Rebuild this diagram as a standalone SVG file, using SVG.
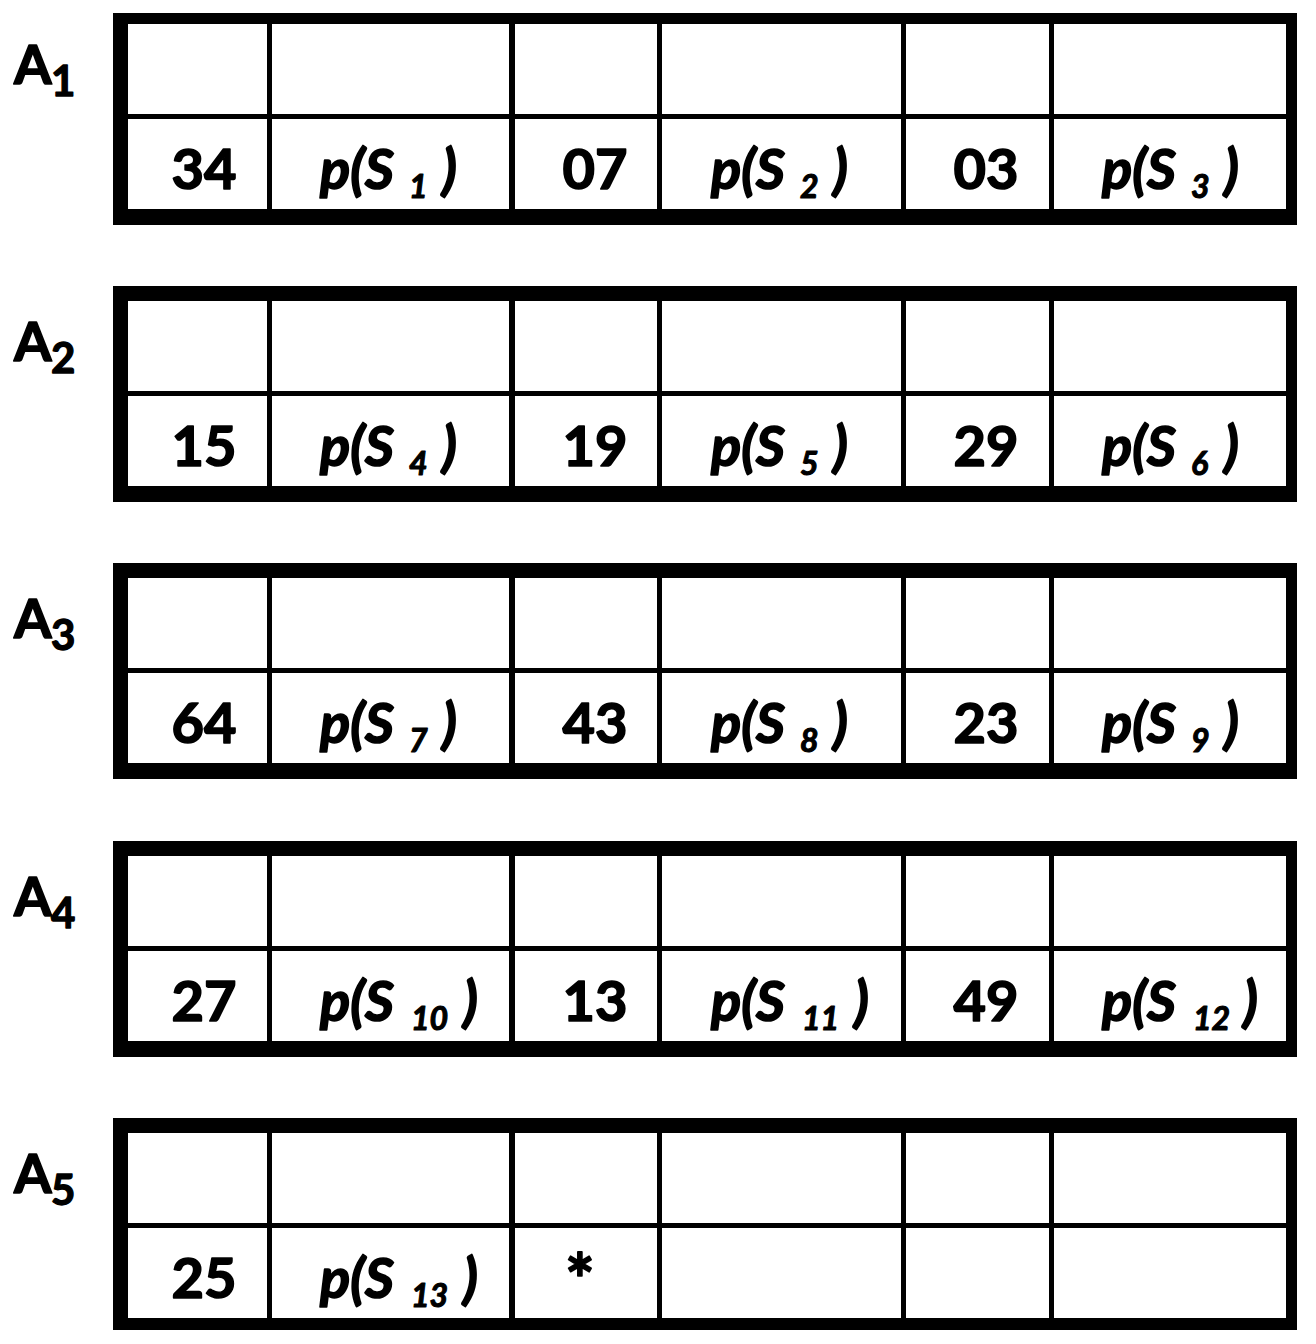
<svg xmlns="http://www.w3.org/2000/svg" width="1316" height="1344" viewBox="0 0 1316 1344">
<style>
  .bar { fill: #000; }
  .num { font-family: Lato, "Open Sans", "Liberation Sans", sans-serif; font-weight: bold; font-size: 56px; fill: #000; stroke: #000; stroke-width: 1.6px; stroke-linejoin: round; text-anchor: middle; }
  .ps { font-family: Lato, "Open Sans", "Liberation Sans", sans-serif; font-weight: bold; font-style: italic; font-size: 56px; fill: #000; stroke: #000; stroke-width: 1.6px; stroke-linejoin: round; }
  .sub { font-size: 32px; stroke-width: 1.1px; }
  .lbl { font-family: Lato, "Open Sans", "Liberation Sans", sans-serif; font-weight: bold; font-size: 54px; fill: #000; stroke: #000; stroke-width: 1.6px; stroke-linejoin: round; }
  .lsub { font-size: 42px; stroke-width: 1.3px; }
  .ast { font-size: 70px; }
</style>
<defs>
  <g id="grid">
    <rect class="bar" x="128" y="105" width="1158" height="5"/>
    <rect class="bar" x="267" y="15" width="5" height="185"/>
    <rect class="bar" x="509" y="15" width="6" height="185"/>
    <rect class="bar" x="657" y="15" width="5" height="185"/>
    <rect class="bar" x="901" y="15" width="5" height="185"/>
    <rect class="bar" x="1049" y="15" width="5" height="185"/>
  </g>
  <g id="frame">
    <rect class="bar" x="113" y="0" width="1184" height="15"/>
    <rect class="bar" x="113" y="200" width="1184" height="16"/>
    <rect class="bar" x="113" y="0" width="15" height="216"/>
    <rect class="bar" x="1286" y="0" width="11" height="216"/>
  </g>
</defs>
<rect x="0" y="0" width="1316" height="1344" fill="#fff"/>

<g id="A1" transform="translate(0,9)">
  <use href="#grid"/>
  <rect class="bar" x="113" y="4" width="1184" height="11"/>
  <rect class="bar" x="113" y="200" width="1184" height="16"/>
  <rect class="bar" x="113" y="4" width="15" height="212"/>
  <rect class="bar" x="1286" y="4" width="11" height="212"/>
  <text class="lbl" x="14" y="75">A<tspan class="lsub" x="51" y="87">1</tspan></text>
  <text class="num" x="204" y="180">34</text>
  <text class="ps" x="320" y="180">p(S<tspan class="sub" x="409" y="189">1</tspan><tspan x="442" y="180">)</tspan></text>
  <text class="num" x="595" y="180">07</text>
  <text class="ps" x="711" y="180">p(S<tspan class="sub" x="800" y="189">2</tspan><tspan x="833" y="180">)</tspan></text>
  <text class="num" x="986" y="180">03</text>
  <text class="ps" x="1102" y="180">p(S<tspan class="sub" x="1191" y="189">3</tspan><tspan x="1224" y="180">)</tspan></text>
</g>

<g id="A2" transform="translate(0,286)">
  <use href="#grid"/>
  <use href="#frame"/>
  <text class="lbl" x="14" y="75">A<tspan class="lsub" x="51" y="87">2</tspan></text>
  <text class="num" x="204" y="180">15</text>
  <text class="ps" x="320" y="180">p(S<tspan class="sub" x="409" y="189">4</tspan><tspan x="442" y="180">)</tspan></text>
  <text class="num" x="595" y="180">19</text>
  <text class="ps" x="711" y="180">p(S<tspan class="sub" x="800" y="189">5</tspan><tspan x="833" y="180">)</tspan></text>
  <text class="num" x="986" y="180">29</text>
  <text class="ps" x="1102" y="180">p(S<tspan class="sub" x="1191" y="189">6</tspan><tspan x="1224" y="180">)</tspan></text>
</g>

<g id="A3" transform="translate(0,563)">
  <use href="#grid"/>
  <use href="#frame"/>
  <text class="lbl" x="14" y="75">A<tspan class="lsub" x="51" y="87">3</tspan></text>
  <text class="num" x="204" y="180">64</text>
  <text class="ps" x="320" y="180">p(S<tspan class="sub" x="409" y="189">7</tspan><tspan x="442" y="180">)</tspan></text>
  <text class="num" x="595" y="180">43</text>
  <text class="ps" x="711" y="180">p(S<tspan class="sub" x="800" y="189">8</tspan><tspan x="833" y="180">)</tspan></text>
  <text class="num" x="986" y="180">23</text>
  <text class="ps" x="1102" y="180">p(S<tspan class="sub" x="1191" y="189">9</tspan><tspan x="1224" y="180">)</tspan></text>
</g>

<g id="A4" transform="translate(0,841)">
  <use href="#grid"/>
  <use href="#frame"/>
  <text class="lbl" x="14" y="75">A<tspan class="lsub" x="51" y="87">4</tspan></text>
  <text class="num" x="204" y="180">27</text>
  <text class="ps" x="320" y="180">p(S<tspan class="sub" x="411" y="189">10</tspan><tspan x="463" y="180">)</tspan></text>
  <text class="num" x="595" y="180">13</text>
  <text class="ps" x="711" y="180">p(S<tspan class="sub" x="802" y="189">11</tspan><tspan x="854" y="180">)</tspan></text>
  <text class="num" x="986" y="180">49</text>
  <text class="ps" x="1102" y="180">p(S<tspan class="sub" x="1193" y="189">12</tspan><tspan x="1243" y="180">)</tspan></text>
</g>

<g id="A5" transform="translate(0,1118)">
  <use href="#grid"/>
  <rect class="bar" x="113" y="0" width="1184" height="15"/>
  <rect class="bar" x="113" y="200" width="1184" height="12"/>
  <rect class="bar" x="113" y="0" width="15" height="212"/>
  <rect class="bar" x="1286" y="0" width="11" height="212"/>
  <text class="lbl" x="14" y="75">A<tspan class="lsub" x="51" y="87">5</tspan></text>
  <text class="num" x="204" y="180">25</text>
  <text class="ps" x="320" y="180">p(S<tspan class="sub" x="411" y="189">13</tspan><tspan x="463" y="180">)</tspan></text>
  <text class="num ast" x="580" y="188">*</text>
</g>
</svg>
